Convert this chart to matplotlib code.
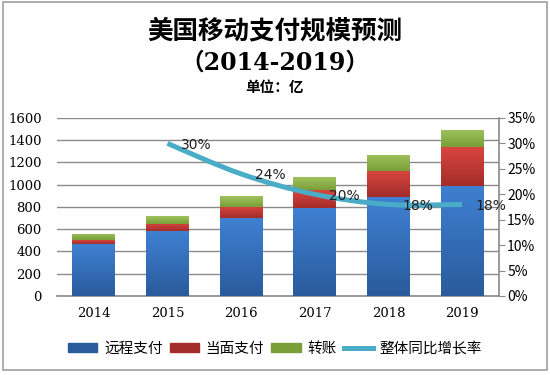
import matplotlib
matplotlib.use("Agg")
import matplotlib.pyplot as plt
import numpy as np
from matplotlib.path import Path
from matplotlib.patches import PathPatch, Rectangle
from matplotlib.lines import Line2D
from matplotlib.colors import LinearSegmentedColormap
from matplotlib.ticker import FuncFormatter

plt.rcParams['font.family'] = ['Noto Sans CJK SC', 'DejaVu Sans']

years = ['2014', '2015', '2016', '2017', '2018', '2019']
remote = [465, 580, 700, 790, 890, 990]
inperson = [35, 65, 100, 160, 235, 345]
transfer = [55, 70, 95, 115, 145, 160]
growth_years = ['2015', '2016', '2017', '2018', '2019']
growth = [0.30, 0.24, 0.20, 0.18, 0.18]
series_names = ['远程支付', '当面支付', '转账', '整体同比增长率']

title1 = '美国移动支付规模预测'
title2 = '（2014-2019）'
title3 = '单位：亿'

fig = plt.figure(figsize=(5.5, 3.75), dpi=100)
fig.patch.set_facecolor('white')
fig.add_artist(Rectangle((0.005, 0.014), 0.99, 0.98, transform=fig.transFigure,
                         fill=False, edgecolor='#a0a0a0', linewidth=1.2))

ax = fig.add_axes([0.1036, 0.2107, 0.8034, 0.4747])
x = np.arange(len(years))
width = 0.58

grads = [('#3f80d2', '#2a5b9c'), ('#d9453f', '#a32d2a'), ('#9fc25c', '#7a9f38')]
series = [remote, inperson, transfer]
bottom = np.zeros(len(years))
for vals, (ctop, cbot) in zip(series, grads):
    bars = ax.bar(x, vals, width, bottom=bottom, color=ctop, zorder=3)
    cmap = LinearSegmentedColormap.from_list('g', [cbot, ctop])
    for b in bars:
        x0, y0 = b.get_x(), b.get_y()
        w, h = b.get_width(), b.get_height()
        im = ax.imshow(np.linspace(0, 1, 64).reshape(-1, 1), cmap=cmap,
                       origin='lower', extent=[x0, x0 + w, y0, y0 + h],
                       aspect='auto', zorder=3.5)
        im.set_clip_path(b)
    bottom = bottom + np.array(vals)

ax.set_xlim(-0.5, len(years) - 0.5)
ax.set_ylim(0, 1600)
ax.set_yticks(np.arange(0, 1601, 200))
ax.set_xticks(x)
ax.set_xticklabels(years, family='DejaVu Serif', fontsize=9.5)
for lab in ax.get_yticklabels():
    lab.set_family('DejaVu Serif')
    lab.set_fontsize(9.5)
ax.tick_params(axis='y', length=0, pad=11)
ax.tick_params(axis='x', length=0, pad=8)
ax.grid(axis='y', color='#8a8a8a', linewidth=1, zorder=0)
ax.set_axisbelow(True)
for s in ['left', 'top', 'right']:
    ax.spines[s].set_visible(False)
ax.spines['bottom'].set_color('#8a8a8a')
ax.spines['bottom'].set_linewidth(1.2)

ax2 = ax.twinx()
ax2.set_ylim(0, 0.35)
ax2.set_yticks(np.arange(0, 0.351, 0.05))
ax2.yaxis.set_major_formatter(FuncFormatter(lambda v, p: f'{v*100:.0f}%'))
ax2.tick_params(axis='y', length=4, color='#8a8a8a', labelsize=10, pad=2)
for s in ['left', 'top', 'bottom']:
    ax2.spines[s].set_visible(False)
ax2.spines['right'].set_color('#8a8a8a')
ax2.spines['right'].set_linewidth(1.2)

gx = np.array([years.index(y) for y in growth_years], dtype=float)
gy = np.array(growth)
pts = np.column_stack([gx, gy])
verts = [tuple(pts[0])]
codes = [Path.MOVETO]
n = len(pts)
for i in range(n - 1):
    p0 = pts[i - 1] if i > 0 else pts[i]
    p1 = pts[i]
    p2 = pts[i + 1]
    p3 = pts[i + 2] if i + 2 < n else pts[i + 1]
    c1 = p1 + (p2 - p0) / 6
    c2 = p2 - (p3 - p1) / 6
    verts += [tuple(c1), tuple(c2), tuple(p2)]
    codes += [Path.CURVE4] * 3
line_color = '#4aacc6'
ax2.add_patch(PathPatch(Path(verts, codes), facecolor='none', edgecolor=line_color,
                        linewidth=3.6, zorder=5, capstyle='butt'))
for xi, yi in zip(gx, gy):
    ax2.annotate(f'{yi*100:.0f}%', (xi, yi), xytext=(10, -1), textcoords='offset points',
                 ha='left', va='center', fontsize=10, family='DejaVu Sans',
                 color='#202020', zorder=6)

fig.text(0.5, 0.918, title1, ha='center', va='center', fontsize=18.4,
         fontweight='bold', family=['Noto Sans CJK SC'])
fig.text(0.5, 0.834, title2, ha='center', va='center', fontsize=17,
         fontweight='bold', family=['DejaVu Serif', 'Noto Sans CJK SC'])
fig.text(0.5, 0.768, title3, ha='center', va='center', fontsize=10.5,
         fontweight='bold', family=['Noto Sans CJK SC'])

handles = [Rectangle((0, 0), 1, 1, color=c[1]) for c in grads]
handles.append(Line2D([0], [0], color=line_color, linewidth=3.6))
fig.legend(handles, series_names, loc='center', bbox_to_anchor=(0.5, 0.07),
           ncol=4, frameon=False, fontsize=10.5, handlelength=2.0, handleheight=0.6,
           handletextpad=0.45, columnspacing=0.5)

fig.savefig('out.png', dpi=100)
